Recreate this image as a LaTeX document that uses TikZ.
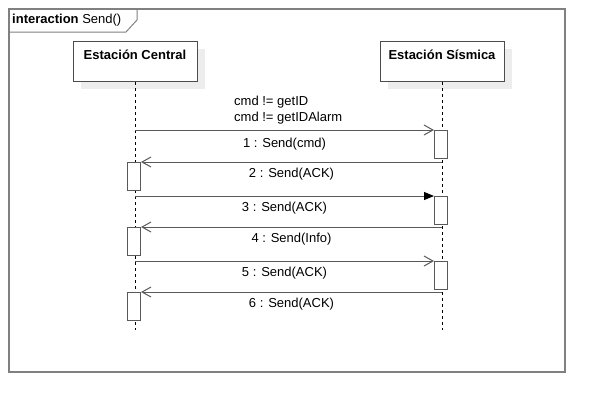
\documentclass[tikz,border=0pt]{standalone}
\usepackage{fontspec}
\setmainfont{Liberation Sans}
\usetikzlibrary{arrows.meta,shadows}

\begin{document}
\begin{tikzpicture}[x=1pt, y=-1pt, >={Straight Barb[length=9pt,width=10pt]},
    font=\fontsize{13}{16}\selectfont]
    \tikzstyle{frame} = [draw=black!50, line width=1.6pt]
    \tikzstyle{head} = [draw=black!70, line width=1pt, fill=white,
	minimum width=124pt, minimum height=40pt, inner sep=0pt,
	drop shadow={shadow xshift=8pt, shadow yshift=-7pt, fill=black!7, opacity=1}]
    \tikzstyle{act} = [draw=black!65, line width=1pt, fill=white,
	minimum width=13pt, minimum height=28pt, inner sep=0pt]
    \tikzstyle{msg} = [draw=black!65, line width=1pt]
    \tikzstyle{lifeline} = [draw=black, line width=0.6pt, dash pattern=on 3pt off 3pt]
    \tikzstyle{lbl} = [inner sep=0pt, below=6pt]
    \tikzstyle{headtext} = [anchor=north, yshift=-5pt,
	font=\fontsize{13}{16}\selectfont\bfseries]

    \useasboundingbox (0,0) rectangle (605,413);

    % frame and tab
    \draw[frame] (9,9) rectangle (565,372);
    \draw[frame, line width=1pt] (9,32) -- (126,32) -- (137,20) -- (137,9);
    \node[anchor=west, inner sep=0pt] (title) at (12,20) {\textbf{interaction} Send()};

    % lifelines
    \node[head, anchor=north, label={[headtext]north:Estación Central}]
	(ec) at (135,41) {};
    \node[head, anchor=north, label={[headtext]north:Estación Sísmica}]
	(es) at (442,41) {};
    \coordinate (ecend) at (135,330);
    \coordinate (esend) at (442,330);
    \draw[lifeline] (ec.south) -- (ecend);
    \draw[lifeline] (es.south) -- (esend);

    % activations
    \node[act, anchor=north] (a1) at (441,130) {};
    \node[act, anchor=north] (a2) at (134,162) {};
    \node[act, anchor=north] (a3) at (441,196) {};
    \node[act, anchor=north] (a4) at (134,227) {};
    \node[act, anchor=north] (a5) at (441,261) {};
    \node[act, anchor=north] (a6) at (134,292) {};

    % guard
    \node[anchor=south west, align=left, inner sep=0pt] (g1) at (234,124)
	{cmd != getID\\cmd != getIDAlarm};

    % messages
    \draw[msg, ->] (ec.south |- a1.north) -- (a1.north west)
	node[lbl, midway, below=2pt] (m1) {1 : Send(cmd)};
    \draw[msg, ->] (es.south |- a2.north) -- (a2.north east)
	node[lbl, midway] (m2) {2 : Send(ACK)};
    \draw[msg, -{Triangle[length=10pt,width=8pt,color=black]}] (ec.south |- a3.north) -- (a3.north west)
	node[lbl, midway] (m3) {3 : Send(ACK)};
    \draw[msg, ->] (es.south |- a4.north) -- (a4.north east)
	node[lbl, midway] (m4) {4 : Send(Info)};
    \draw[msg, ->] (ec.south |- a5.north) -- (a5.north west)
	node[lbl, midway] (m5) {5 : Send(ACK)};
    \draw[msg, ->] (es.south |- a6.north) -- (a6.north east)
	node[lbl, midway] (m6) {6 : Send(ACK)};

\end{tikzpicture}
\end{document}
